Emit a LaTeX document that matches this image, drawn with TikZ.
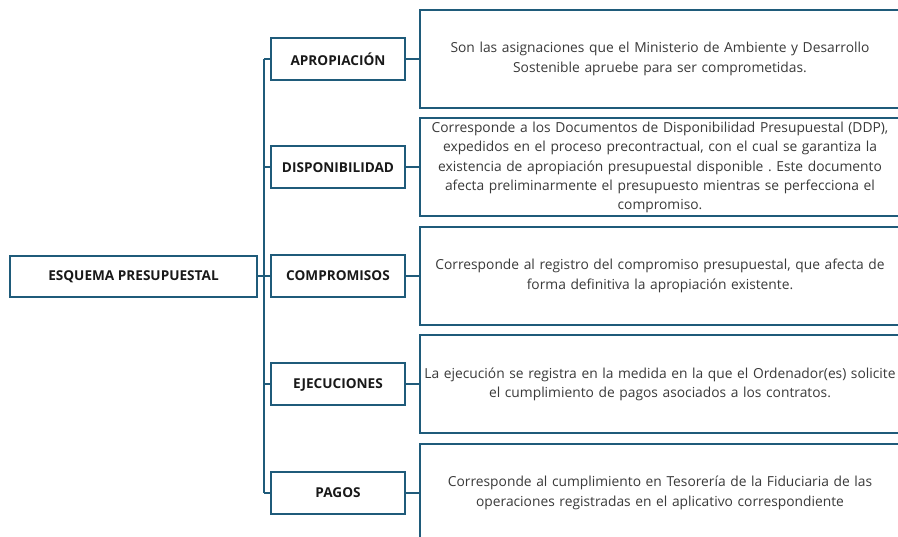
\documentclass[tikz,border=0pt]{standalone}
\usepackage{fontspec}
\setmainfont{Open Sans}
\definecolor{borde}{RGB}{31,91,122}
\definecolor{texto}{RGB}{58,58,58}

\def\dy{108.5}
\def\rama#1#2#3{
\node[etiqueta] (m#1) at (338,{59+#1*\dy}) {#2};
\node[detalle] (d#1) at (660,{59+#1*\dy}) {#3};
\draw[linea] (m#1.east) -- (d#1.west);
\draw[linea] (m#1.west) -- (m#1.west -| tronco);
}

\begin{document}
\begin{tikzpicture}[x=1pt,y=-1pt,
  linea/.style={draw=borde,line width=2pt},
  caja/.style={draw=borde,line width=2pt,inner sep=0pt,fill=white},
  etiqueta/.style={caja,minimum width=134pt,minimum height=42pt,
    font=\fontsize{13.6}{16}\selectfont\bfseries,text=black!90},
  detalle/.style={caja,minimum width=481pt,minimum height=98pt,
    text width=479pt,align=center,text=texto,
    font=\fontsize{13.8}{19.3}\selectfont\frenchspacing}]
\useasboundingbox (0,0) rectangle (898,537);
\clip (0,0) rectangle (898,537);
\node[etiqueta,minimum width=247pt,minimum height=41pt] (raiz) at (133.5,276.5)
  {ESQUEMA PRESUPUESTAL};
\coordinate (tronco) at (264,276.5);
\draw[linea] (raiz.east) -- (tronco);
\rama{0}{APROPIACIÓN}{Son las asignaciones que el Ministerio de Ambiente y Desarrollo\\
  Sostenible apruebe para ser comprometidas.}
\rama{1}{DISPONIBILIDAD}{Corresponde a los Documentos de Disponibilidad Presupuestal (DDP),\\
  expedidos en el proceso precontractual, con el cual se garantiza la\\
  existencia de apropiación presupuestal disponible . Este documento\\
  afecta preliminarmente el presupuesto mientras se perfecciona el\\
  compromiso.}
\rama{2}{COMPROMISOS}{Corresponde al registro del compromiso presupuestal, que afecta de\\
  forma definitiva la apropiación existente.}
\rama{3}{EJECUCIONES}{La ejecución se registra en la medida en la que el Ordenador(es) solicite\\
  el cumplimiento de pagos asociados a los contratos.}
\rama{4}{PAGOS}{Corresponde al cumplimiento en Tesorería de la Fiduciaria de las\\
  operaciones registradas en el aplicativo correspondiente}
\draw[linea] (m0.west -| tronco) -- (m4.west -| tronco);
\end{tikzpicture}
\end{document}
